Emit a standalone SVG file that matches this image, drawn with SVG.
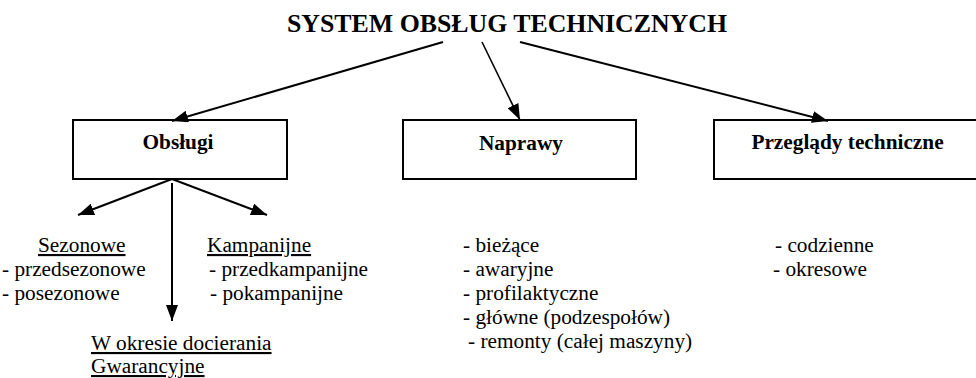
<svg xmlns="http://www.w3.org/2000/svg" width="976" height="378" viewBox="0 0 976 378">
  <defs>
    <marker id="arrow" viewBox="0 0 16 12" refX="16" refY="6" markerWidth="16" markerHeight="12" markerUnits="userSpaceOnUse" orient="auto">
      <path d="M0,0 L16,6 L0,12 z" fill="#000"/>
    </marker>
    <style>
      text { font-family: 'Liberation Serif', 'Times New Roman', 'DejaVu Serif', serif; fill: #000; }
      .box { fill: #fff; stroke: #000; stroke-width: 2; }
      .head { font-weight: bold; }
      .lbl { font-weight: bold; font-size: 21.3px; text-anchor: middle; }
      .txt { font-size: 21.3px; }
      .ul { text-decoration: underline; }
      .edge { stroke: #000; stroke-width: 2; fill: none; marker-end: url(#arrow); }
    </style>
  </defs>
  <rect width="976" height="378" fill="#fff"/>

  <!-- title -->
  <g id="title">
    <text class="head" x="287" y="32" font-size="25.6" font-family="Liberation Serif, serif" textLength="440" lengthAdjust="spacingAndGlyphs">SYSTEM OBSŁUG TECHNICZNYCH</text>
  </g>

  <!-- main categories -->
  <g id="obslugi">
    <rect class="box" x="73" y="120" width="214" height="59"/>
    <text class="lbl" x="178" y="149" font-family="Liberation Serif, serif">Obsługi</text>
  </g>
  <g id="naprawy">
    <rect class="box" x="403" y="120" width="233" height="59"/>
    <text class="lbl" x="521" y="150" font-family="Liberation Serif, serif">Naprawy</text>
  </g>
  <g id="przeglady">
    <rect class="box" x="714" y="120" width="266" height="59"/>
    <text class="lbl" x="847.5" y="149" font-family="Liberation Serif, serif">Przeglądy techniczne</text>
  </g>

  <!-- connectors -->
  <g id="connectors">
    <line class="edge" x1="443" y1="42" x2="172" y2="121"/>
    <line class="edge" x1="482" y1="42" x2="520" y2="120" style="stroke-width:1.6"/>
    <line class="edge" x1="520" y1="42" x2="828" y2="121"/>
    <line class="edge" x1="172" y1="179" x2="78" y2="215"/>
    <line class="edge" x1="172" y1="179" x2="267" y2="215"/>
    <line class="edge" x1="172" y1="183" x2="172" y2="321"/>
  </g>

  <!-- kinds of servicing -->
  <g id="sezonowe" font-family="Liberation Serif, serif">
    <text class="txt ul" x="38" y="252">Sezonowe</text>
    <text class="txt" x="2" y="276">- przedsezonowe</text>
    <text class="txt" x="2" y="300">- posezonowe</text>
  </g>
  <g id="kampanijne">
    <text class="txt ul" x="207" y="252">Kampanijne</text>
    <text class="txt" x="209" y="276">- przedkampanijne</text>
    <text class="txt" x="210" y="300">- pokampanijne</text>
  </g>
  <g id="docierania">
    <text class="txt ul" x="91" y="350">W okresie docierania</text>
    <text class="txt ul" x="91" y="373">Gwarancyjne</text>
  </g>

  <!-- kinds of repairs -->
  <g id="naprawy-lista">
    <text class="txt" x="463" y="252">- bieżące</text>
    <text class="txt" x="463" y="276">- awaryjne</text>
    <text class="txt" x="463" y="300">- profilaktyczne</text>
    <text class="txt" x="463" y="324">- główne (podzespołów)</text>
    <text class="txt" x="468" y="348">- remonty (całej maszyny)</text>
  </g>

  <!-- kinds of inspections -->
  <g id="przeglady-lista">
    <text class="txt" x="775" y="252">- codzienne</text>
    <text class="txt" x="773" y="276">- okresowe</text>
  </g>
</svg>
